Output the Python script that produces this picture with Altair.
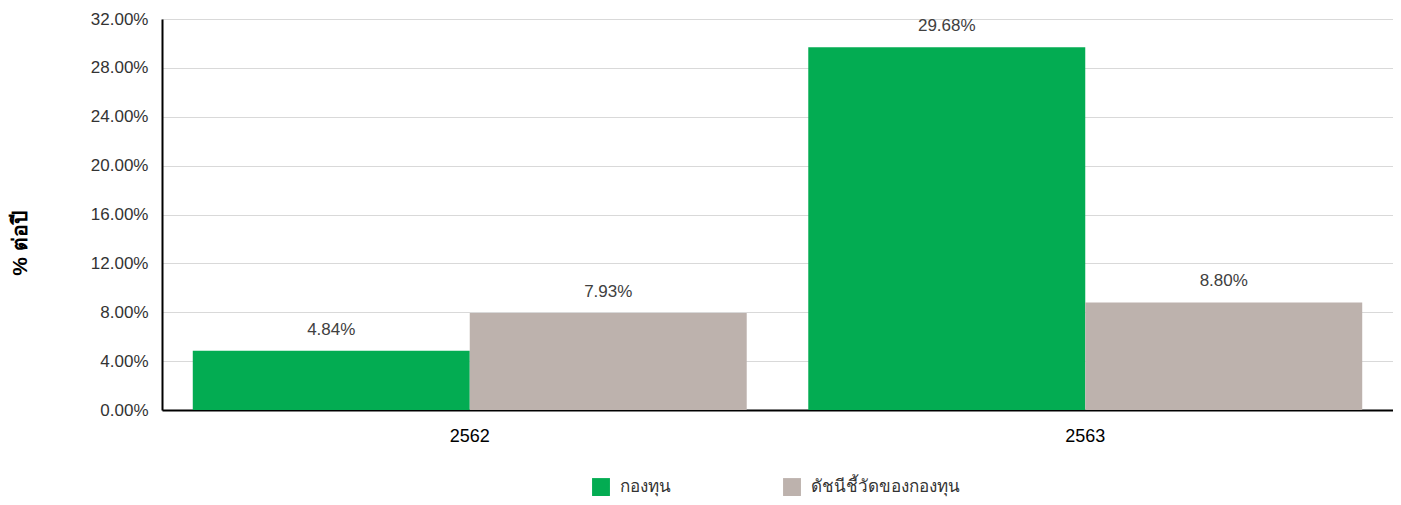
import altair as alt
import pandas as pd

years = ["2562", "2563"]
series = ["กองทุน", "ดัชนีชี้วัดของกองทุน"]
fund_values = [4.84, 29.68]
bench_values = [7.93, 8.80]
colors = ["#03AC52", "#BDB2AD"]

rows = []
for i, y in enumerate(years):
    rows.append({"year": y, "series": series[0], "value": fund_values[i]})
    rows.append({"year": y, "series": series[1], "value": bench_values[i]})
df = pd.DataFrame(rows)
df["label"] = df["value"].map(lambda v: f"{v:.2f}%")

FONT = "Liberation Sans, Arial, Noto Sans, sans-serif"

x = alt.X("year:N", sort=years, title=None,
          scale=alt.Scale(paddingInner=0.1, paddingOuter=0.05),
          axis=alt.Axis(labelAngle=0, ticks=False, labelPadding=17, labelFontSize=18,
                        labelColor="#000", labelFont=FONT, domainColor="#000", domainWidth=2,
                        grid=False))
xo = alt.XOffset("series:N", sort=series)
y = alt.Y("value:Q", title="% ต่อปี",
          scale=alt.Scale(domain=[0, 32], nice=False),
          axis=alt.Axis(values=[0, 4, 8, 12, 16, 20, 24, 28, 32],
                        labelExpr="format(datum.value, '.2f') + '%'",
                        ticks=False, labelPadding=14, labelFontSize=17, labelColor="#333",
                        labelFont=FONT, domainColor="#000", domainWidth=2,
                        gridColor="#d9d9d9", gridWidth=1.2,
                        titleFontSize=21, titleFontWeight="bold", titleColor="#000",
                        titleAngle=-90, titleX=-142, titleY=224, titleAlign="center",
                        titleBaseline="middle"))

bars = alt.Chart(df).mark_bar().encode(
    x=x, xOffset=xo, y=y,
    color=alt.Color("series:N", sort=series,
                    scale=alt.Scale(domain=series, range=colors),
                    legend=alt.Legend(title=None, orient="none", direction="horizontal",
                                      legendX=430, legendY=459, symbolType="square",
                                      symbolSize=320, symbolStrokeWidth=0, padding=0,
                                      labelFontSize=17, labelColor="#333", labelFont=FONT,
                                      columnPadding=112, labelOffset=10))
)

text = alt.Chart(df).mark_text(dy=-21, fontSize=17, color="#404040", font=FONT,
                               baseline="middle").encode(
    x=x, xOffset=xo, y=y, text="label:N"
)

chart = (bars + text).properties(
    width=1231, height=391,
    autosize=alt.AutoSizeParams(type="none"),
    padding={"left": 154, "top": 11, "right": 0, "bottom": 87},
).configure_view(stroke="#999", strokeWidth=1).configure(font=FONT)

chart.save("out.html", embed_options={"renderer": "svg", "actions": False})
